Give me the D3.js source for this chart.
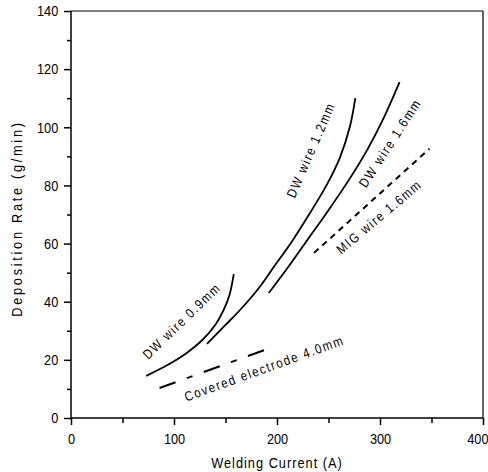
<!DOCTYPE html>
<html>
<head>
<meta charset="utf-8">
<script src="https://cdn.jsdelivr.net/npm/d3@7"></script>
<style>
  html, body { margin: 0; padding: 0; background: #fff; }
  svg { display: block; }
  text { font-family: "Liberation Sans", Arial, sans-serif; fill: #000; }
</style>
</head>
<body>
<svg id="chart" width="488" height="472"></svg>
<script>
// ---- data (Welding Current in A, Deposition Rate in g/min) ----
const dw09Current = [73, 95, 112, 128, 140, 148, 154, 158];
const dw09Rate    = [14.5, 18.5, 22.3, 27, 32, 37, 42.5, 49.5];

const dw12Current = [132, 150, 165, 183, 197, 215, 232, 248, 261, 271, 276];
const dw12Rate    = [25.5, 32, 37.5, 45, 52, 61, 70.5, 80, 89.5, 100.5, 110];

const dw16Current = [192, 210, 230, 250, 270, 288, 304, 319];
const dw16Rate    = [43, 51.5, 61.5, 71.5, 82, 92.5, 103.5, 115.5];

const migCurrent = [236, 348];
const migRate    = [56.8, 92.6];

const covCurrent = [86, 188];
const covRate    = [10.3, 23.4];

const xTicks = [0, 100, 200, 300, 400];
const xMinorTicks = [50, 150, 250, 350];
const yTicks = [0, 20, 40, 60, 80, 100, 120, 140];
const yMinorTicks = [10, 30, 50, 70, 90, 110, 130];

const labelText    = ["DW wire 0.9mm", "Covered electrode 4.0mm", "DW wire 1.2mm", "DW wire 1.6mm", "MIG wire 1.6mm"];
const labelCurrent = [107.5, 187.6, 232.8, 309.7, 299];
const labelRate    = [33.4, 17.1, 92.2, 94.6, 69.2];
const labelAngle   = [-44, -20, -66.5, -57, -40];

// ---- layout ----
const W = 488, H = 472;
const margin = {top: 11, right: 5, bottom: 54, left: 71};
const NARROW = 0.85;
const svg = d3.select("#chart");

const x = d3.scaleLinear().domain([0, 400]).range([margin.left, W - margin.right]);
const y = d3.scaleLinear().domain([0, 140]).range([H - margin.bottom, margin.top]);

// frame (top & right)
svg.append("line").attr("x1", x(0)).attr("x2", x(400)).attr("y1", y(140)).attr("y2", y(140))
  .attr("stroke", "#000").attr("stroke-width", 1.2);
svg.append("line").attr("x1", x(400)).attr("x2", x(400)).attr("y1", y(0)).attr("y2", y(140))
  .attr("stroke", "#000").attr("stroke-width", 1.2);

// axes
const xAxis = svg.append("g").attr("transform", `translate(0,${y(0)})`)
  .call(d3.axisBottom(x).tickValues(xTicks).tickSize(7).tickPadding(8).tickFormat(d3.format("d")));
const xMinor = svg.append("g").attr("transform", `translate(0,${y(0)})`)
  .call(d3.axisBottom(x).tickValues(xMinorTicks).tickSize(5).tickFormat(""));
const yAxis = svg.append("g").attr("transform", `translate(${x(0)},0)`)
  .call(d3.axisLeft(y).tickValues(yTicks).tickSize(7).tickPadding(8).tickFormat(d3.format("d")));
const yMinor = svg.append("g").attr("transform", `translate(${x(0)},0)`)
  .call(d3.axisLeft(y).tickValues(yMinorTicks).tickSize(4).tickFormat(""));

[xAxis, xMinor, yAxis, yMinor].forEach(g => {
  g.selectAll(".domain").attr("stroke", "#000").attr("stroke-width", 1.5);
  g.selectAll(".tick line").attr("stroke", "#000").attr("stroke-width", 1.5);
  g.selectAll("text").attr("font-size", 15).attr("font-family", null)
    .attr("transform", `scale(${NARROW},1)`).style("fill", "#000");
});
// keep the last x label inside the picture
xAxis.selectAll(".tick text").filter(d => d === 400).attr("text-anchor", "end").attr("x", 5 / NARROW);
xMinor.select(".domain").remove();
yMinor.select(".domain").remove();
xAxis.select(".domain").attr("d", `M${x(0)},0H${x(400)}`);
yAxis.select(".domain").attr("d", `M0,${y(0)}V${y(140)}`);

// axis titles
svg.append("text")
  .attr("transform", `translate(${(x(0) + x(400)) / 2},468) scale(${NARROW},1)`)
  .attr("text-anchor", "middle").attr("font-size", 15).attr("letter-spacing", 1.2)
  .text("Welding Current (A)");
svg.append("text")
  .attr("transform", `translate(22,${(y(0) + y(140)) / 2 + 4}) rotate(-90) scale(${NARROW},1)`)
  .attr("text-anchor", "middle").attr("font-size", 15).attr("letter-spacing", 3.2)
  .text("Deposition Rate (g/min)");

// curves
const line = d3.line().x(d => x(d[0])).y(d => y(d[1])).curve(d3.curveCatmullRom.alpha(0.5));
const zip = (a, b) => a.map((v, i) => [v, b[i]]);

const series = [
  {pts: zip(dw09Current, dw09Rate), dash: null, w: 1.8},
  {pts: zip(dw12Current, dw12Rate), dash: null, w: 1.8},
  {pts: zip(dw16Current, dw16Rate), dash: null, w: 1.8},
  {pts: zip(migCurrent, migRate), dash: "6,5", w: 2},
  {pts: zip(covCurrent, covRate), dash: "17,12,6,12", w: 2}
];
svg.append("g").selectAll("path").data(series).join("path")
  .attr("d", d => line(d.pts))
  .attr("fill", "none")
  .attr("stroke", "#000")
  .attr("stroke-width", d => d.w)
  .attr("stroke-dasharray", d => d.dash);

// curve labels
svg.append("g").selectAll("text").data(labelText).join("text")
  .attr("transform", (d, i) => `translate(${x(labelCurrent[i])},${y(labelRate[i])}) rotate(${labelAngle[i]}) scale(${NARROW},1)`)
  .attr("text-anchor", "middle")
  .attr("dy", "0.35em")
  .attr("font-size", 13.5)
  .attr("letter-spacing", 1.9)
  .text(d => d);
</script>
</body>
</html>
